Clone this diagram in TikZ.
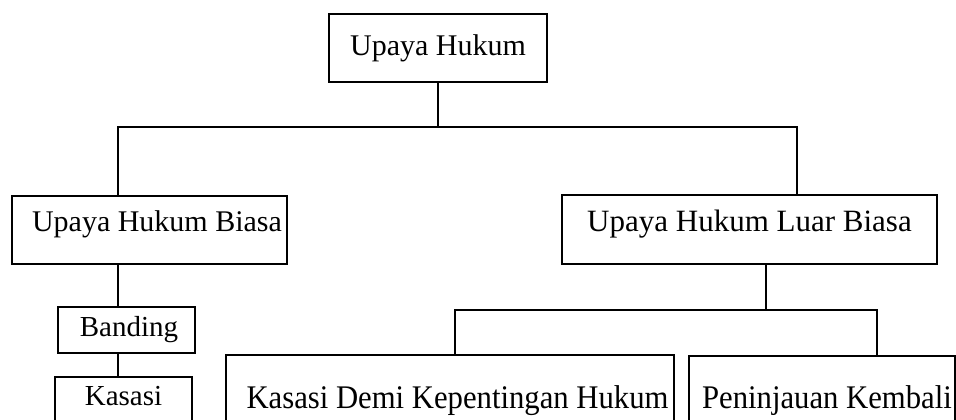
\documentclass[tikz,border=0pt]{standalone}
\usepackage{fontspec}
\setmainfont{Liberation Serif}
\newfontfamily\narrowserif[FakeStretch=0.93]{Liberation Serif}
\begin{document}
\begin{tikzpicture}[x=0.75pt,y=-0.75pt,
 card/.style={draw,line width=1.2pt,fill=white,inner xsep=0pt,inner ysep=0pt,font=\fontsize{22.5pt}{27pt}\selectfont},
 small/.style={font=\fontsize{21.75pt}{26pt}\selectfont},
 wide/.style={font=\narrowserif\fontsize{24.75pt}{29pt}\selectfont},
 link/.style={line width=1.2pt,line join=miter}]
 \useasboundingbox (0,0) rectangle (956,420);
 \clip (0,0) rectangle (956,420);
 \node[card,minimum width=163.5pt,text height=31.5pt,text depth=19.5pt] (uh) at (438,48) {Upaya Hukum};
 \node[card,minimum width=206.25pt,text height=27pt,text depth=24pt] (uhb) at (149.5,230) {\hspace{11.25pt}Upaya Hukum Biasa};
 \node[card,font=\fontsize{23.25pt}{28pt}\selectfont,minimum width=281.25pt,text height=27.75pt,text depth=24pt] (uhlb) at (749.5,229.5) {Upaya Hukum Luar Biasa\hspace{6pt}};
 \node[card,small,minimum width=102.75pt,text height=21.75pt,text depth=12.75pt] (bd) at (126.5,330) {\hspace{3.75pt}Banding};
 \node[card,small,minimum width=102.75pt,text height=21pt,text depth=26.25pt] (ks) at (123.5,408.5) {Kasasi\hspace{10.5pt}};
 \node[card,wide,minimum width=336pt,text height=39.75pt,text depth=24pt] (kdkh) at (450,397.5) {\hspace{11.25pt}Kasasi Demi Kepentingan Hukum};
 \node[card,wide,minimum width=199.5pt,text height=39pt,text depth=24pt] (pk) at (822,398) {\hspace{7.5pt}Peninjauan Kembali};
 \coordinate (j1) at (438,127);
 \coordinate (jl) at (118,127);
 \coordinate (jr) at (797,127);
 \coordinate (k1) at (766,310);
 \coordinate (kl) at (455,310);
 \coordinate (kr) at (877,310);
 \draw[link] (uh) -- (j1);
 \draw[link] (jl |- uhb.north) -- (jl) -- (jr) -- (jr |- uhlb.north);
 \draw[link] (jl |- uhb.south) -- (jl |- bd.north);
 \draw[link] (jl |- bd.south) -- (jl |- ks.north);
 \draw[link] (k1 |- uhlb.south) -- (k1);
 \draw[link] (kl |- kdkh.north) -- (kl) -- (kr) -- (kr |- pk.north);
\end{tikzpicture}
\end{document}
